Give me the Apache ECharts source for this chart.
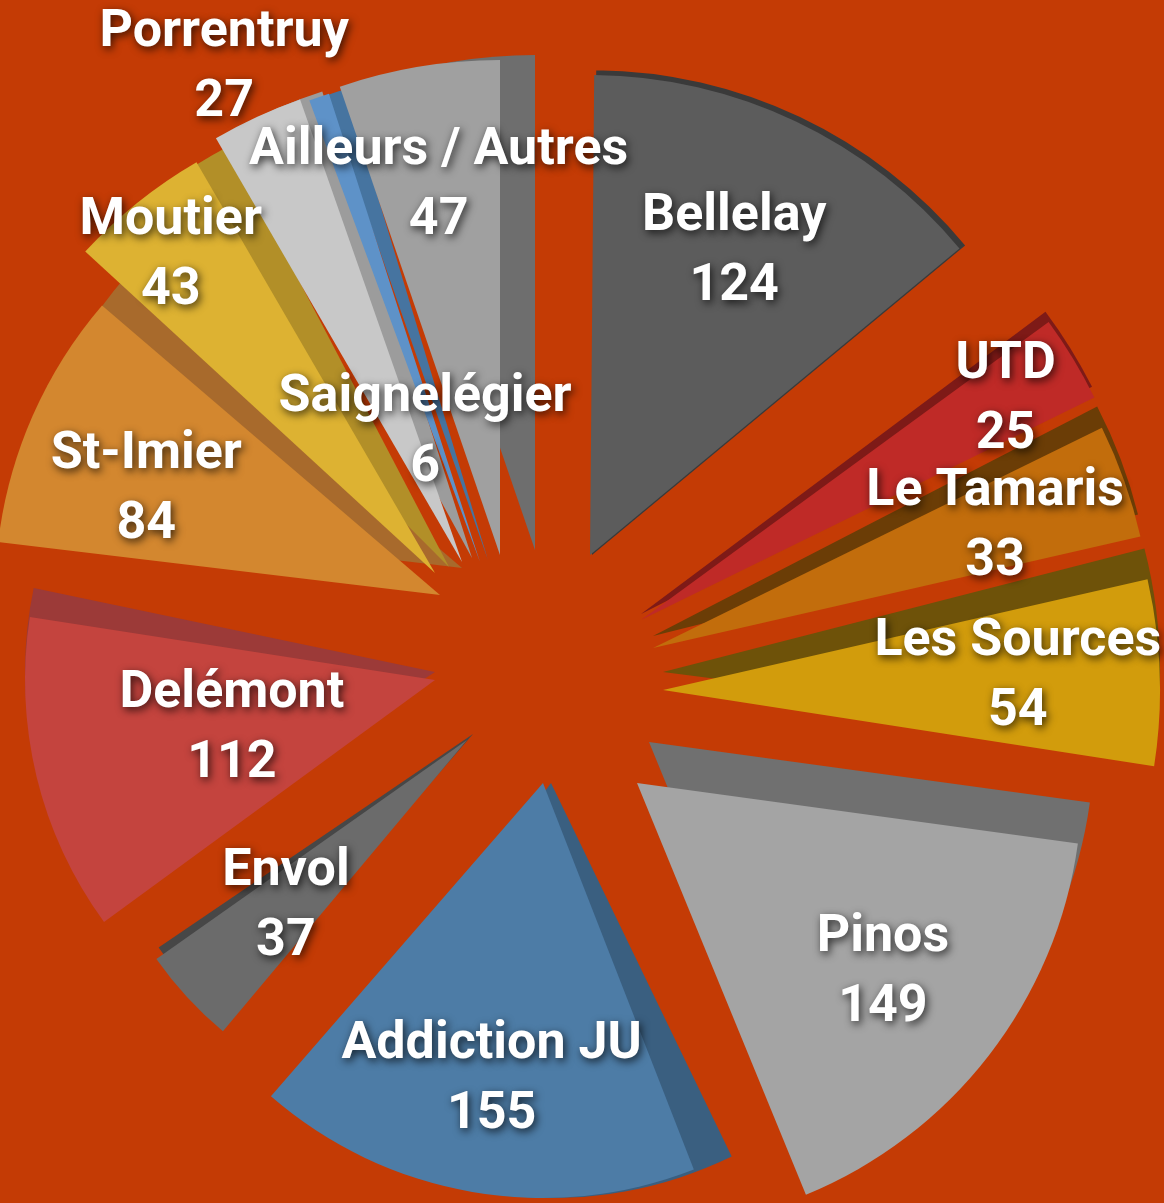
<!DOCTYPE html>
<html>
<head>
<meta charset="utf-8">
<title>Répartition</title>
<script src="https://cdn.jsdelivr.net/npm/echarts@6/dist/echarts.min.js"></script>
<style>
  html, body { margin: 0; padding: 0; background: #c43b05; }
  #chart { width: 1164px; height: 1203px; }
</style>
</head>
<body>
<div id="chart"></div>
<script>
// données
var categories = ['Bellelay', 'UTD', 'Le Tamaris', 'Les Sources', 'Pinos', 'Addiction JU', 'Envol',
    'Delémont', 'St-Imier', 'Moutier', 'Porrentruy', 'Saignelégier', 'Ailleurs / Autres'];
var values = [124, 25, 33, 54, 149, 155, 37, 112, 84, 43, 27, 6, 47];

// style : couleurs du dessus et de la tranche
var colors = ['#5c5c5c', '#bf2a27', '#c26d0c', '#d29c0c', '#a4a4a4', '#4d7ca6', '#6b6b6b',
    '#c4443e', '#d3872f', '#ddb232', '#c8c8c8', '#5e92c8', '#a0a0a0'];
var sideColors = ['#3a3a3a', '#7e1a17', '#6b3d06', '#6e5209', '#707070', '#3a5f80', '#474747',
    '#9c3a38', '#a86a2c', '#b28f28', '#9c9c9c', '#4674a0', '#6e6e6e'];

// mise en page : centre commun, décalage (explosion), rayon et léger pivot (perspective) de chaque part
var pieCenter = [548, 660];
var explode = [[42, -105], [93, -40], [105, -12], [115, 30], [89, 123], [-5, 123], [-81, 80],
    [-113, 20], [-108, -65], [-113, -87], [-86, -98], [-68, -98], [-48, -105]];
var radii = [480, 505, 500, 497, 445, 415, 380, 410, 445, 475, 490, 492, 495];
var tilt = [0.5, 4, 4, 4, 3, 4, 3, 2, 0, 2, 2, 1, 0];
// épaisseur 3D : [dx, dy, rotation (deg, sens horaire), échelle rayon]
var depth = [[2, 0, 0, 1.01], [0, -6, -0.6, 1], [0, -12, -1.2, 1], [0, -18, -1.5, 1],
    [12, -41, 0, 1], [8, 0, -4.5, 1], [6, -6, 1, 1], [0, -8, 3, 1], [22, -27, 0, 1],
    [14, -6, 2.5, 1], [10, -4, 1.5, 1], [8, -2, 1, 1], [35, -5, 0, 1]];
// étiquettes : distance au sommet et pivot
var labelDist = [333, 423, 360, 352, 308, 298, 243, 206, 309, 410, 545, 137, 371];
var labelTilt = [0, 0, 0, 0, 0, 0, 0, 0, -4, -1, -1, -4, 0];

var chart = echarts.init(document.getElementById('chart'));

var total = values.reduce(function (a, b) { return a + b; }, 0);
var transparent = 'rgba(0,0,0,0)';

var common = {
    type: 'pie',
    silent: true,
    clockwise: true,
    avoidLabelOverlap: false,
    labelLayout: { hideOverlap: false },
    labelLine: { show: false },
    emphasis: { disabled: true },
    itemStyle: { borderWidth: 0 }
};

var labelStyle = {
    show: true,
    position: 'inside',
    formatter: '{b}\n{c}',
    color: '#ffffff',
    fontFamily: 'Roboto, "Liberation Sans", sans-serif',
    fontWeight: 'bold',
    fontSize: 52,
    lineHeight: 70,
    textShadowColor: 'rgba(0,0,0,0.75)',
    textShadowBlur: 8,
    textShadowOffsetX: 2,
    textShadowOffsetY: 3
};

function sliceData(i, color) {
    return [
        { name: categories[i], value: values[i], itemStyle: { color: color } },
        { name: '', value: total - values[i], itemStyle: { color: transparent }, label: { show: false } }
    ];
}

var series = [];
var cum = 0;
categories.forEach(function (name, i) {
    var start = 90 - cum / total * 360 - tilt[i];
    cum += values[i];
    var cx = pieCenter[0] + explode[i][0];
    var cy = pieCenter[1] + explode[i][1];
    var d = depth[i];

    // tranche (face latérale)
    series.push(Object.assign({}, common, {
        z: 2 + i * 2,
        center: [cx + d[0], cy + d[1]],
        radius: [0, radii[i] * d[3]],
        startAngle: start - d[2],
        label: { show: false },
        data: sliceData(i, sideColors[i])
    }));
    // dessus
    series.push(Object.assign({}, common, {
        z: 3 + i * 2,
        center: [cx, cy],
        radius: [0, radii[i]],
        startAngle: start,
        label: { show: false },
        data: sliceData(i, colors[i])
    }));
    // étiquette
    series.push(Object.assign({}, common, {
        z: 60,
        center: [cx, cy],
        radius: [labelDist[i] - 1, labelDist[i] + 1],
        startAngle: start - labelTilt[i],
        label: labelStyle,
        data: sliceData(i, transparent)
    }));
});

chart.setOption({
    backgroundColor: '#c43b05',
    animation: false,
    series: series
});
</script>
</body>
</html>
